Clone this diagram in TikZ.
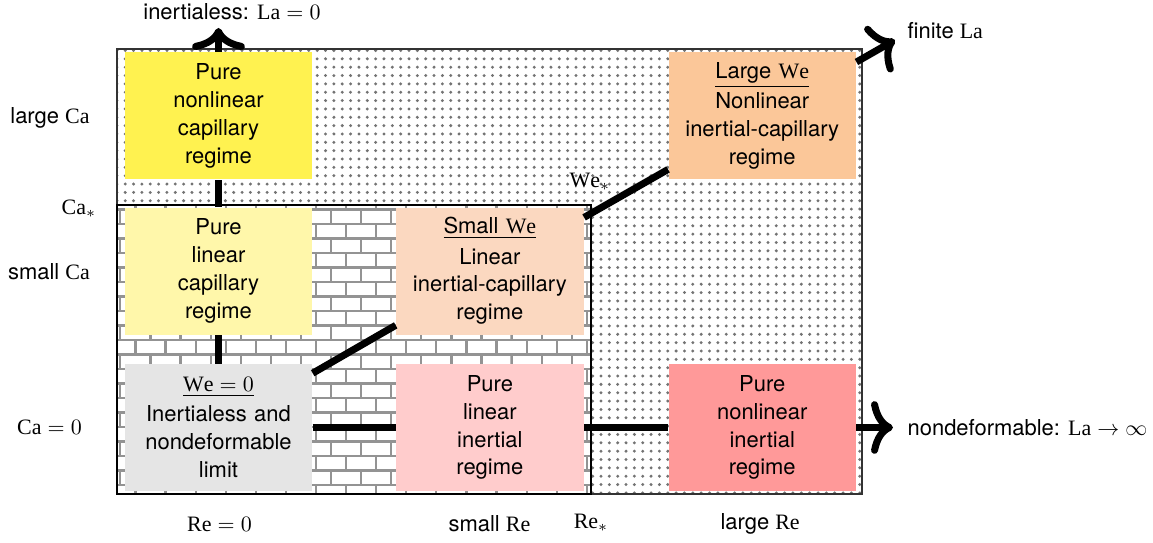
\documentclass[tikz,border=0pt]{standalone}
\usepackage{fontspec}
\setmainfont{TeX Gyre Heros}
\setmathrm{Liberation Serif}
\usetikzlibrary{arrows.meta,backgrounds,patterns,positioning}

\definecolor{capnl}{RGB}{255,242,80}
\definecolor{caplin}{RGB}{255,247,170}
\definecolor{nolimit}{RGB}{229,229,229}
\definecolor{smallwe}{RGB}{251,216,192}
\definecolor{inlin}{RGB}{255,204,204}
\definecolor{largewe}{RGB}{251,199,153}
\definecolor{innl}{RGB}{255,153,153}

\pgfdeclarepatternformonly{finedots}{\pgfpoint{-1pt}{-1pt}}{\pgfpoint{1pt}{1pt}}{\pgfpoint{3.8pt}{3.8pt}}
{\pgfpathcircle{\pgfpointorigin}{0.75pt}\pgfusepath{fill}}
\pgfdeclarepatternformonly{wallbricks}{\pgfpoint{-0.6pt}{-0.6pt}}{\pgfpoint{14.3pt}{13.8pt}}{\pgfpoint{13.7pt}{13.2pt}}
{
  \pgfsetlinewidth{1pt}
  \pgfpathmoveto{\pgfpoint{0pt}{0pt}}\pgfpathlineto{\pgfpoint{13.7pt}{0pt}}
  \pgfpathmoveto{\pgfpoint{0pt}{6.6pt}}\pgfpathlineto{\pgfpoint{13.7pt}{6.6pt}}
  \pgfpathmoveto{\pgfpoint{0pt}{0pt}}\pgfpathlineto{\pgfpoint{0pt}{6.6pt}}
  \pgfpathmoveto{\pgfpoint{6.85pt}{6.6pt}}\pgfpathlineto{\pgfpoint{6.85pt}{13.2pt}}
  \pgfusepath{stroke}
}

\begin{document}
\begin{tikzpicture}[
    regime/.style={rectangle, minimum width=3cm, minimum height=2.03cm, text width=2.9cm,
      inner sep=0pt, align=center, font=\fontsize{10}{12.7}\selectfont},
    link/.style={line width=3.2pt},
    limit/.style={line width=3.2pt, -{Computer Modern Rightarrow[length=10pt,width=24pt,line cap=round]}},
    tag/.style={font=\fontsize{10}{12}\selectfont, inner sep=1pt}
  ]
  \useasboundingbox (-1.872,-0.784) rectangle (16.576,7.904);

  % bottom row first, the rest hangs off it
  \node[regime, fill=nolimit] (wez) at (1.624,1.064)
    {\underline{$\mathrm{We}=0$}\\[1pt]Inertialess and\\nondeformable\\limit};
  \node[regime, fill=inlin, right=1.328cm of wez] (pli) {Pure\\linear\\inertial\\regime};
  \node[regime, fill=innl, right=1.344cm of pli] (pni) {Pure\\nonlinear\\inertial\\regime};
  \node[regime, fill=caplin, above=0.458cm of wez] (plc) {Pure\\linear\\capillary\\regime};
  \node[regime, fill=capnl, above=0.442cm of plc] (pnc) {Pure\\nonlinear\\capillary\\regime};
  \node[regime, fill=smallwe, right=1.328cm of plc] (swe)
    {\underline{Small $\mathrm{We}$}\\[1pt]Linear\\inertial-capillary\\regime};
  \node[regime, fill=largewe, above right=0.442cm and 1.344cm of swe] (lwe)
    {\underline{Large $\mathrm{We}$}\\[1pt]Nonlinear\\inertial-capillary\\regime};

  % limits
  \coordinate (inl) at (1.624,7.456);
  \coordinate (ndl) at (12.416,1.064);
  \coordinate (fnl) at (12.448,7.264);
  \node[tag] (inltxt) at (1.84,7.712) {inertialess: $\mathrm{La}=0$};
  \node[tag, anchor=west] (ndltxt) at (12.608,1.064) {nondeformable: $\mathrm{La}\to\infty$};
  \node[tag, anchor=west] (fnltxt) at (12.608,7.408) {finite $\mathrm{La}$};

  % axes
  \node[tag] (ca0) at (-1.08,1.064) {$\mathrm{Ca}=0$};
  \node[tag] (smallca) at (-1.088,3.552) {small $\mathrm{Ca}$};
  \node[tag] (castar) at (-0.608,4.56) {$\mathrm{Ca}_*$};
  \node[tag] (largeca) at (-1.072,6.024) {large $\mathrm{Ca}$};
  \node[tag] (re0) at (1.64,-0.48) {$\mathrm{Re}=0$};
  \node[tag] (smallre) at (5.96,-0.48) {small $\mathrm{Re}$};
  \node[tag] (restar) at (7.584,-0.46) {$\mathrm{Re}_*$};
  \node[tag] (largere) at (10.29,-0.48) {large $\mathrm{Re}$};
  \node[tag] (westar) at (7.568,4.99) {$\mathrm{We}_*$};

  \draw[link] (wez) -- (plc);
  \draw[link] (plc) -- (pnc);
  \draw[limit] (pnc) -- (inl);
  \draw[link] (wez) -- (pli);
  \draw[link] (pli) -- (pni);
  \draw[limit] (pni) -- (ndl);
  \draw[link] (wez) -- (swe);
  \draw[link] (swe) -- (lwe);
  \draw[limit] (lwe) -- (fnl);

  \begin{pgfonlayer}{background}
    \draw[black!80, line width=0.6pt, pattern=finedots, pattern color=black!55] (0,0) rectangle (11.92,7.12);
    \fill[white] (0,0) rectangle (7.584,4.624);
    \draw[black, line width=0.6pt, pattern=wallbricks, pattern color=gray!85] (0,0) rectangle (7.584,4.624);
  \end{pgfonlayer}
\end{tikzpicture}
\end{document}
